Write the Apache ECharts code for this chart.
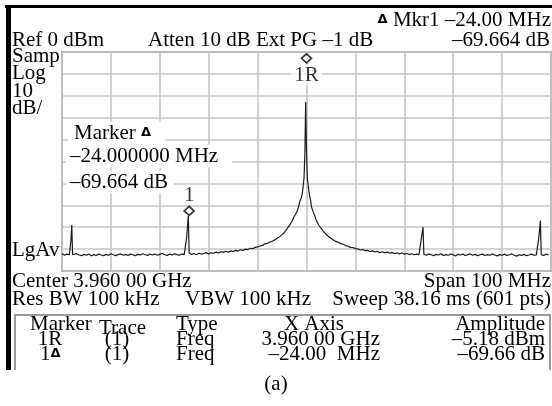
<!DOCTYPE html>
<html><head><meta charset="utf-8">
<script src="https://cdn.jsdelivr.net/npm/echarts@6/dist/echarts.min.js"></script>
<style>html,body{margin:0;padding:0;background:#fff}#c{width:552px;height:406px}</style>
</head><body><div id="c"></div>
<script>
// Frequency offset from centre (MHz) and trace level (dBm)
const traceFreqMHz = [
-50,-49.5,-49,-48.5,-48.17,-48,-47.83,-47.5,-47,-46.5,-46,-45.5,-45,-44.5,-44,-43.5,-43,-42.5,-42,-41.5,-41,-40.5,-40,
-39.5,-39,-38.5,-38,-37.5,-37,-36.5,-36,-35.5,-35,-34.5,-34,-33.5,-33,-32.5,-32,-31.5,-31,-30.5,-30,
-29.5,-29,-28.5,-28,-27.5,-27,-26.5,-26,-25.5,-25,-24.5,-24.17,-24,-23.83,-23.5,-23,-22.5,-22,-21.5,-21,-20.5,-20,
-19.5,-19,-18.5,-18,-17.5,-17,-16.5,-16,-15.5,-15,-14.5,-14,-13.5,-13,-12.5,-12,-11.5,-11,-10.5,-10,
-9.5,-9,-8.5,-8,-7.5,-7,-6.5,-6,-5.5,-5,-4.5,-4,-3.5,-3,-2.5,-2,-1.67,-1.33,-1,-0.83,-0.67,-0.5,-0.33,-0.17,
0,0.17,0.33,0.5,0.67,0.83,1,1.33,1.67,2,2.5,3,3.5,4,4.5,5,5.5,6,6.5,7,7.5,8,8.5,9,9.5,10,
10.5,11,11.5,12,12.5,13,13.5,14,14.5,15,15.5,16,16.5,17,17.5,18,18.5,19,19.5,20,
20.5,21,21.5,22,22.5,23,23.5,23.83,24,24.17,24.5,25,25.5,26,26.5,27,27.5,28,28.5,29,29.5,30,
30.5,31,31.5,32,32.5,33,33.5,34,34.5,35,35.5,36,36.5,37,37.5,38,38.5,39,39.5,40,
40.5,41,41.5,42,42.5,43,43.5,44,44.5,45,45.5,46,46.5,47,47.5,47.83,48,48.17,48.5,49,49.5,50
];
const traceLevelDbm = [
-92.0,-92.8,-92.3,-92.6,-86.0,-79.0,-92.6,-92.9,-92.1,-92.7,-93.0,-92.4,-92.8,-92.2,-93.1,-92.5,-92.9,-92.3,-92.7,-93.0,-92.4,-92.8,-92.1,
-92.6,-93.0,-92.5,-92.2,-92.8,-92.4,-92.9,-92.3,-92.6,-93.0,-92.4,-92.7,-92.1,-92.6,-92.9,-92.3,-92.7,-92.2,-92.8,-92.4,
-92.0,-92.6,-92.9,-92.3,-92.7,-92.1,-92.5,-92.8,-92.2,-92.5,-84.5,-74.8,-91.8,-92.0,-92.4,-92.0,-92.6,-91.9,-92.3,-92.0,-91.6,
-92.2,-91.7,-91.9,-91.4,-91.8,-91.2,-91.5,-91.0,-91.4,-90.8,-91.1,-90.6,-90.9,-90.3,-90.6,-90.0,-90.2,-89.6,-89.8,-89.2,
-89.0,-88.6,-88.3,-87.6,-87.4,-86.8,-86.4,-85.8,-85.0,-84.4,-83.4,-82.3,-80.8,-79.2,-77.4,-75.0,-73.2,-71.0,-68.0,-66.2,-64.0,-61.0,-57.5,-46.0,
-22.8,-45.5,-57.8,-60.5,-63.6,-65.9,-67.6,-70.6,-72.8,-74.6,-77.0,-79.0,-80.5,-82.0,-83.2,-84.3,-85.0,-85.8,-86.5,-86.9,-87.5,-87.8,-88.4,-88.7,-89.2,-89.3,
-89.8,-89.9,-90.4,-90.2,-90.7,-90.6,-91.1,-90.8,-91.3,-91.0,-91.6,-91.2,-91.7,-91.4,-91.9,-91.5,-92.1,-91.7,-92.2,-91.8,
-92.3,-92.0,-92.5,-92.1,-92.6,-92.3,-92.6,-85.0,-80.0,-92.3,-92.4,-92.8,-92.2,-92.6,-93.0,-92.4,-92.7,-92.1,-92.9,-92.5,-92.8,-92.2,
-92.6,-93.1,-92.4,-92.7,-92.3,-92.9,-92.5,-92.2,-92.8,-92.4,-93.0,-92.6,-92.3,-92.9,-92.5,-92.8,-92.2,-92.7,-93.1,-92.5,
-92.8,-92.3,-92.9,-92.6,-92.2,-92.8,-93.2,-92.6,-92.9,-92.4,-93.0,-92.7,-92.3,-92.8,-92.6,-85.0,-77.0,-92.5,-92.6,-92.9,-92.3,-92.7
];
const markerNames = ['1R', '1'];
const markerFreqMHz = [0, -24];
const markerLevelDbm = [-5.18, -74.84];

const SERIF = '"Liberation Serif", "Times New Roman", serif';
const FS = 21;
const chart = echarts.init(document.getElementById('c'), null, {renderer: 'canvas'});

function T(text, x, y, opt) {
  opt = opt || {};
  return {
    type: 'text', z: opt.z || 50,
    style: Object.assign({
      text: text, x: x, y: y, font: (opt.size || FS) + 'px ' + SERIF,
      fill: '#000', align: opt.align || 'left', verticalAlign: 'middle'
    }, opt.style || {})
  };
}
const delta = {font: 'bold 13px "DejaVu Sans"', fill: '#000'};

const graphics = [
  {type: 'rect', shape: {x: 5, y: 5, width: 547, height: 3}, style: {fill: '#000'}, z: 60},
  {type: 'rect', shape: {x: 6, y: 5, width: 5, height: 365}, style: {fill: '#000'}, z: 60},
  {type: 'polyline', shape: {points: [[15, 370], [15, 315], [550, 315], [550, 370]]}, style: {stroke: '#9a9a9a', lineWidth: 2, fill: null}, z: 40},
  T('{d|Δ} Mkr1 –24.00 MHz', 551, 20, {align: 'right', style: {rich: {d: delta}}}),
  T('Ref 0 dBm', 12, 40),
  T('Atten 10 dB Ext PG –1 dB', 148, 40),
  T('–69.664 dB', 550, 40, {align: 'right'}),
  T('Samp', 12, 56),
  T('Log', 12, 73),
  T('10', 12, 91),
  T('dB/', 12, 108),
  T('Marker {d|Δ}', 68, 133, {style: {rich: {d: delta}, backgroundColor: '#fff', padding: [1, 14, 1, 6]}}),
  T('–24.000000 MHz', 66, 156, {style: {backgroundColor: '#fff', padding: [1, 14, 1, 4]}}),
  T('–69.664 dB', 66, 182, {style: {backgroundColor: '#fff', padding: [1, 6, 1, 4]}}),
  T('LgAv', 12, 250),
  T('Center 3.960 00 GHz', 12, 281),
  T('Span 100 MHz', 551, 281, {align: 'right'}),
  T('Res BW 100 kHz', 12, 299),
  T('VBW 100 kHz', 185, 299),
  T('Sweep 38.16 ms (601 pts)', 551, 299, {align: 'right'}),
  T('Marker', 30, 324),
  T('Trace', 99, 328),
  T('Type', 176, 324),
  T('X Axis', 314, 324, {align: 'center'}),
  T('Amplitude', 545, 324, {align: 'right'}),
  T('1R', 50, 339, {align: 'center'}),
  T('(1)', 117, 339, {align: 'center'}),
  T('Freq', 176, 339),
  T('3.960 00 GHz', 380, 339, {align: 'right'}),
  T('–5.18 dBm', 545, 339, {align: 'right'}),
  T('1{d|Δ}', 40, 354, {style: {rich: {d: delta}}}),
  T('(1)', 117, 354, {align: 'center'}),
  T('Freq', 176, 354),
  T('–24.00  MHz', 380, 354, {align: 'right'}),
  T('–69.66 dB', 545, 354, {align: 'right'}),
  T('(a)', 276, 384, {align: 'center'})
];

const trace = traceFreqMHz.map((f, i) => [f, traceLevelDbm[i]]);
const markers = markerFreqMHz.map((f, i) => ({
  value: [f, markerLevelDbm[i]],
  label: {
    show: true, formatter: markerNames[i],
    position: i === 0 ? 'bottom' : 'top', distance: i === 0 ? 1 : 0,
    fontFamily: 'Liberation Serif', fontSize: FS, color: '#000',
    backgroundColor: i === 0 ? '#fff' : 'transparent', padding: [0, 3]
  }
}));

chart.setOption({
  animation: false,
  backgroundColor: '#fff',
  grid: {left: 62, top: 52, width: 489, height: 219, show: true, borderColor: '#a8a8a8', borderWidth: 2, backgroundColor: 'transparent'},
  xAxis: {
    type: 'value', min: -50, max: 50, interval: 10,
    axisLine: {show: false}, axisTick: {show: false}, axisLabel: {show: false},
    splitLine: {show: true, lineStyle: {color: '#c6c6c6', width: 1.6}}
  },
  yAxis: {
    type: 'value', min: -100, max: 0, interval: 10,
    axisLine: {show: false}, axisTick: {show: false}, axisLabel: {show: false},
    splitLine: {show: true, lineStyle: {color: '#c6c6c6', width: 1.6}}
  },
  series: [
    {type: 'line', data: trace, showSymbol: false, symbol: 'none', z: 5,
     lineStyle: {color: '#1c1c1c', width: 1.2}},
    {type: 'scatter', data: markers, symbol: 'diamond', symbolSize: [10, 9], symbolOffset: [0, -5], z: 8,
     itemStyle: {color: '#fff', borderColor: '#000', borderWidth: 1.6}}
  ],
  graphic: graphics
});
</script></body></html>
